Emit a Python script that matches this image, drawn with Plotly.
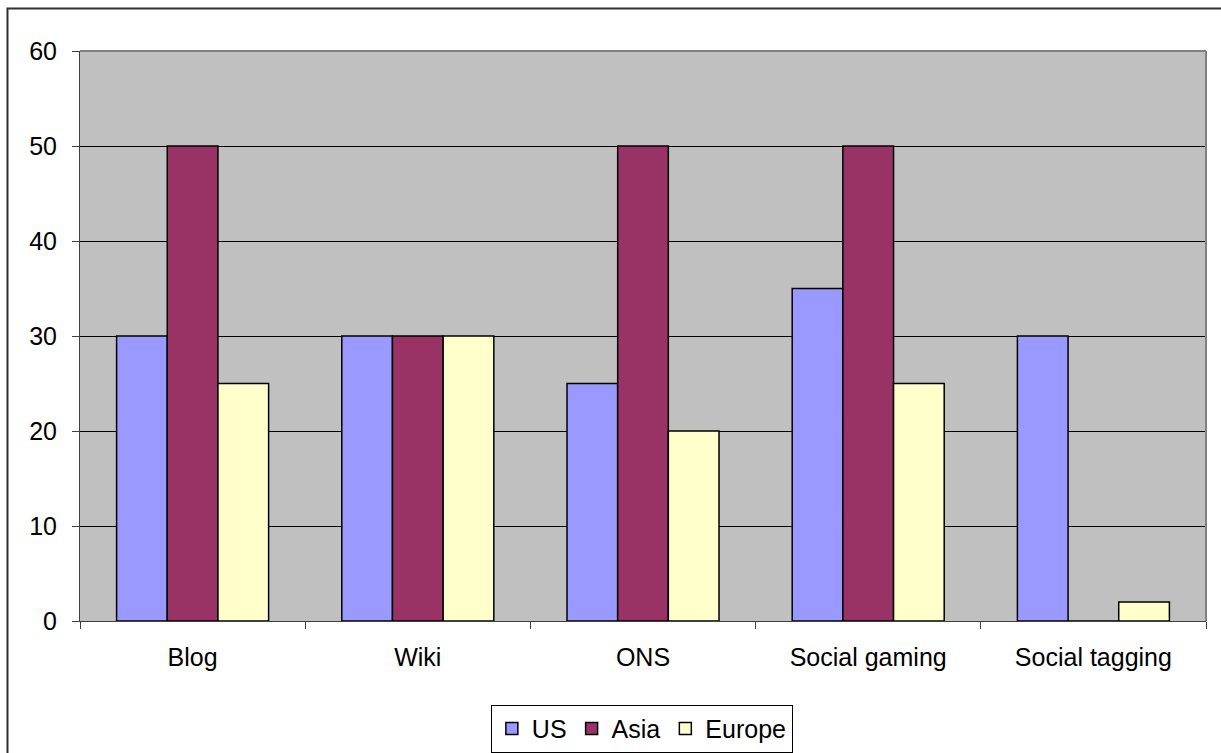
import plotly.graph_objects as go

categories = ["Blog", "Wiki", "ONS", "Social gaming", "Social tagging"]
us = [30, 30, 25, 35, 30]
asia = [50, 30, 50, 50, 0]
europe = [25, 30, 20, 25, 2]
y_ticks = [0, 10, 20, 30, 40, 50, 60]

series = [("US", us, "#9999FF"), ("Asia", asia, "#993366"), ("Europe", europe, "#FFFFCC")]

fig = go.Figure()
for name, vals, color in series:
    fig.add_trace(go.Bar(
        name=name, x=categories, y=vals,
        marker=dict(color=color, line=dict(color="black", width=1.5)),
    ))

font = dict(family="Liberation Sans, Arial, sans-serif", size=25, color="black")

fig.update_layout(
    width=1221, height=753,
    margin=dict(l=80, r=15, t=51, b=132, autoexpand=False),
    paper_bgcolor="white",
    plot_bgcolor="#C0C0C0",
    barmode="group",
    bargap=0.325,
    bargroupgap=0,
    font=font,
    showlegend=True,
    legend=dict(
        orientation="h", x=0.499, xanchor="center", y=-0.147, yanchor="top",
        bgcolor="white", bordercolor="black", borderwidth=1,
        font=font, itemwidth=30, tracegroupgap=0,
    ),
    xaxis=dict(
        type="category", tickson="boundaries", ticks="outside", ticklen=7,
        tickcolor="#404040", showline=True, linecolor="#404040", linewidth=1,
        showgrid=False, tickfont=font, ticklabelstandoff=14,
    ),
    yaxis=dict(
        range=[0, 60], tickvals=y_ticks, ticks="outside", ticklen=7,
        tickcolor="#404040", showline=True, linecolor="#404040", linewidth=1,
        showgrid=True, gridcolor="black", gridwidth=1, zeroline=False,
        tickfont=font, ticklabelstandoff=10,
    ),
    shapes=[
        # plot area top/right edges
        dict(type="line", xref="paper", yref="paper", x0=0, x1=1, y0=1, y1=1,
             line=dict(color="#808080", width=2), layer="above"),
        dict(type="line", xref="paper", yref="paper", x0=1, x1=1, y0=0, y1=1,
             line=dict(color="#808080", width=2), layer="above"),
        # chart frame
        dict(type="rect", xref="paper", yref="paper",
             x0=-0.0644, x1=1.03, y0=-0.26, y1=1.0746,
             line=dict(color="#303030", width=2), fillcolor="rgba(0,0,0,0)",
             layer="below"),
    ],
)

fig.write_html("out.html")
